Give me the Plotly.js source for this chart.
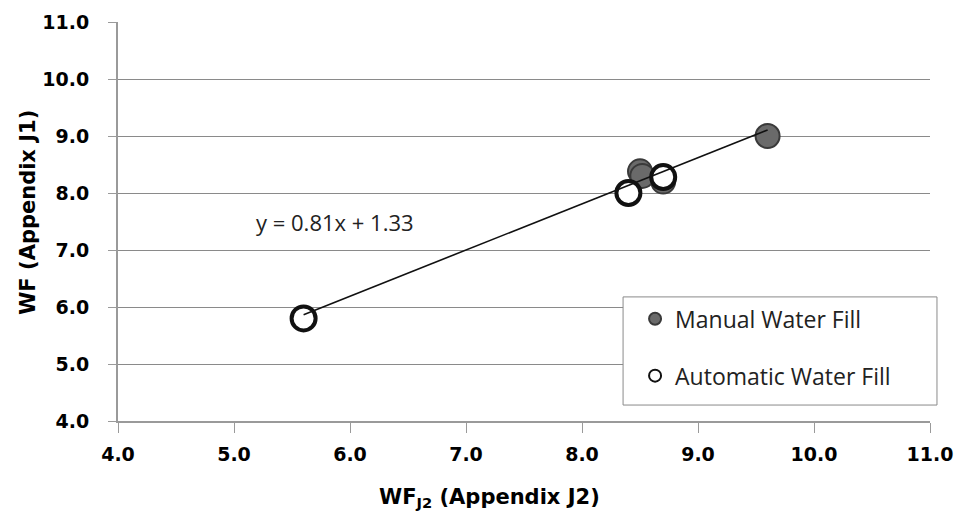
<!DOCTYPE html>
<html>
<head>
<meta charset="utf-8">
<script src="https://cdn.plot.ly/plotly-3.0.1.min.js"></script>
<style>html,body{margin:0;padding:0;background:#fff;}#chart{width:956px;height:521px;}</style>
</head>
<body>
<div id="chart"></div>
<script>
// Data
var manualX = [8.5, 8.52, 8.7, 9.6];
var manualY = [8.38, 8.3, 8.2, 9.0];
var autoX = [8.4, 8.7, 5.6];
var autoY = [8.0, 8.28, 5.8];
var trendSlope = 0.81;
var trendIntercept = 1.33;
var tickVals = [4, 5, 6, 7, 8, 9, 10, 11];
var tickText = ["4.0", "5.0", "6.0", "7.0", "8.0", "9.0", "10.0", "11.0"];

var allX = manualX.concat(autoX);
var xmin = Math.min.apply(null, allX), xmax = Math.max.apply(null, allX);
var trendX = [xmin, xmax];
var trendY = trendX.map(function (x) { return trendSlope * x + trendIntercept; });

var traces = [
  {x: manualX, y: manualY, mode: 'markers', name: 'Manual Water Fill', legendgroup: 'a',
   marker: {size: 24, color: '#6a6a6a', line: {color: '#3a3a3a', width: 2}}},
  {x: autoX, y: autoY, mode: 'markers', name: 'Automatic Water Fill', legendgroup: 'b',
   marker: {size: 24, color: '#ffffff', line: {color: '#111', width: 4}}},
  {x: trendX, y: trendY, mode: 'lines', line: {color: '#111', width: 1.6}, showlegend: false, hoverinfo: 'skip'}
];

var tickFont = {family: 'DejaVu Sans', size: 19, color: '#000', weight: 'bold'};
var layout = {
  width: 956, height: 521,
  margin: {l: 118, r: 26, t: 22, b: 100},
  paper_bgcolor: '#fff', plot_bgcolor: '#fff',
  showlegend: true,
  xaxis: {range: [4, 11], tickvals: tickVals, ticktext: tickText, showgrid: false, zeroline: false,
          showline: true, linecolor: '#9a9a9a', linewidth: 2, ticks: 'outside', ticklen: 10, tickcolor: '#9a9a9a',
          tickfont: tickFont, ticklabelstandoff: 5},
  yaxis: {range: [4, 11], tickvals: tickVals, ticktext: tickText, showgrid: true, gridcolor: '#8a8a8a', gridwidth: 1,
          zeroline: false, showline: true, linecolor: '#9a9a9a', linewidth: 2, ticks: 'outside', ticklen: 8, tickcolor: '#9a9a9a',
          tickfont: tickFont, ticklabelstandoff: 15},
  legend: {x: 0.622, y: 0.31, xanchor: 'left', yanchor: 'top', borderwidth: 0,
           bgcolor: 'rgba(0,0,0,0)', font: {family: 'Open Sans', size: 23, color: '#222'},
           traceorder: 'grouped', tracegroupgap: 24, itemsizing: 'constant', indentation: 12},
  shapes: [
    {type: 'rect', xref: 'paper', yref: 'paper', x0: 0.622, x1: 1.0086, y0: 0.040, y1: 0.311,
     line: {color: '#8a8a8a', width: 1}, fillcolor: '#ffffff', layer: 'above'}
  ],
  annotations: [
    {x: 5.87, y: 7.49, xref: 'x', yref: 'y', text: 'y = 0.81x + 1.33', showarrow: false,
     font: {family: 'Open Sans', size: 22, color: '#222'}},
    {x: 0.457, y: -0.193, xref: 'paper', yref: 'paper', xanchor: 'center', yanchor: 'middle', showarrow: false,
     text: '<b>WF<sub>J2</sub> (Appendix J2)</b>', font: {family: 'DejaVu Sans', size: 21, color: '#000'}},
    {x: -0.111, y: 0.524, xref: 'paper', yref: 'paper', xanchor: 'center', yanchor: 'middle', showarrow: false,
     textangle: -90, text: '<b>WF (Appendix J1)</b>', font: {family: 'DejaVu Sans', size: 21, color: '#000'}}
  ]
};
Plotly.newPlot('chart', traces, layout, {displayModeBar: false});
</script>
</body>
</html>
